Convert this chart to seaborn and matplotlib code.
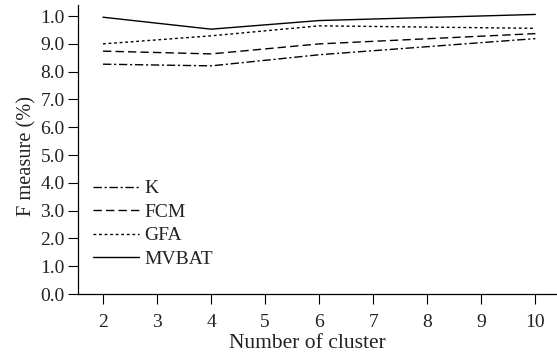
import matplotlib
matplotlib.use("Agg")
import matplotlib.pyplot as plt
import seaborn as sns
import pandas as pd

clusters = [2, 4, 6, 10]
k_vals = [8.27, 8.21, 8.61, 9.19]
fcm_vals = [8.74, 8.64, 9.00, 9.37]
gfa_vals = [9.00, 9.29, 9.65, 9.56]
mvbat_vals = [9.96, 9.53, 9.84, 10.06]
series_names = ["K", "FCM", "GFA", "MVBAT"]
y_ticks = [0, 1, 2, 3, 4, 5, 6, 7, 8, 9, 10]
y_tick_labels = ["0.0", "1.0", "2.0", "3.0", "4.0", "5.0", "6.0", "7.0", "8.0", "9.0", "1.0"]
x_ticks = [2, 3, 4, 5, 6, 7, 8, 9, 10]

sns.set_theme(style="ticks")
plt.rcParams["font.family"] = ["Liberation Serif", "DejaVu Serif"]

df = pd.DataFrame({
    "cluster": clusters * 4,
    "value": k_vals + fcm_vals + gfa_vals + mvbat_vals,
    "method": sum([[n] * len(clusters) for n in series_names], []),
})

fig = plt.figure(figsize=(5.57, 3.56), dpi=100)
ax = fig.add_axes([0.140, 0.174, 0.86, 0.812])

dash_map = {"K": (6, 2, 1.5, 2), "FCM": (6, 3), "GFA": (2, 2), "MVBAT": ""}
sns.lineplot(data=df, x="cluster", y="value", style="method", style_order=series_names,
             dashes=dash_map, color="black", linewidth=1.0, ax=ax, legend=True)

ax.set_xlim(1.537, 10.4)
ax.set_ylim(0, 10.4)
ax.set_xticks(x_ticks)
ax.set_yticks(y_ticks)
ax.set_yticklabels(y_tick_labels)
ax.tick_params(axis="y", labelsize=14, length=7, width=0.8, color="black", labelcolor="#222222", pad=2.5)
ax.tick_params(axis="x", labelsize=14, length=7, width=0.8, color="black", labelcolor="#222222", pad=7)
for s in ["top", "right"]:
    ax.spines[s].set_visible(False)
for s in ["left", "bottom"]:
    ax.spines[s].set_color("black")
    ax.spines[s].set_linewidth(0.9)
ax.set_xlabel("Number of cluster", fontsize=15.5, color="#222222")
ax.set_ylabel("F measure (%)", fontsize=14.7, color="#222222")
ax.xaxis.set_label_coords(0.478, -0.137)
ax.yaxis.set_label_coords(-0.086, 0.477)

leg = ax.legend(loc="center left", bbox_to_anchor=(0.031, 0.243), frameon=False,
                fontsize=14, handlelength=2.4, handletextpad=0.25, labelspacing=0.3,
                borderpad=0, borderaxespad=0)
for t in leg.get_texts():
    t.set_color("#222222")

fig.savefig("out.png", dpi=100)
